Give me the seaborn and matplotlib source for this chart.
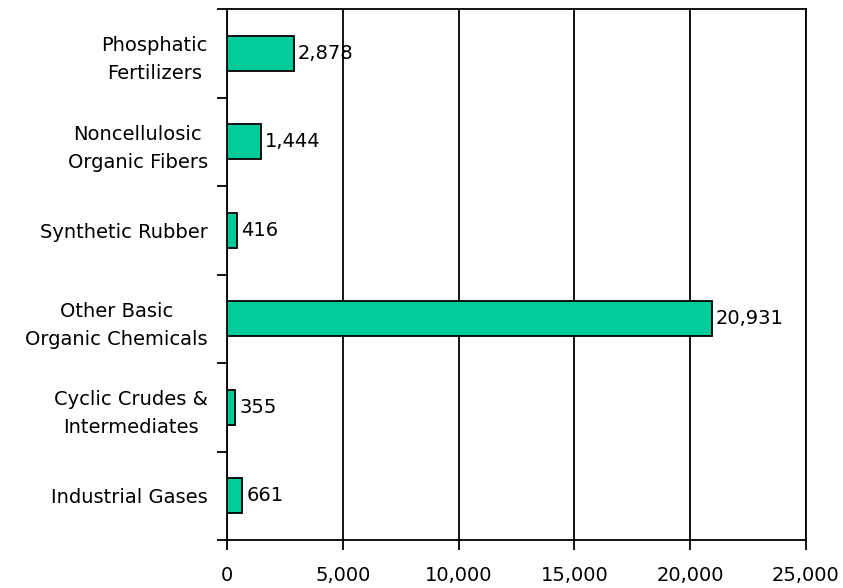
import matplotlib
matplotlib.use("Agg")
import matplotlib.pyplot as plt
import seaborn as sns
import pandas as pd

categories = [
    "Phosphatic\nFertilizers",
    "Noncellulosic\nOrganic Fibers",
    "Synthetic Rubber",
    "Other Basic\nOrganic Chemicals",
    "Cyclic Crudes &\nIntermediates",
    "Industrial Gases",
]
values = [2878, 1444, 416, 20931, 355, 661]
x_ticks = [0, 5000, 10000, 15000, 20000, 25000]
x_tick_labels = ["0", "5,000", "10,000", "15,000", "20,000", "25,000"]

sns.set_theme(style="white")
plt.rcParams["font.family"] = ["DejaVu Sans"]
plt.rcParams["text.color"] = "black"
plt.rcParams["xtick.color"] = "black"
plt.rcParams["ytick.color"] = "black"
FS = 14

df = pd.DataFrame({"category": categories, "value": values})

fig = plt.figure(figsize=(8.43, 5.88), dpi=100)
ax = fig.add_axes([0.2695, 0.0816, 0.6865, 0.9031])

sns.barplot(data=df, x="value", y="category", orient="h", order=categories,
            color="#00CC99", saturation=1, edgecolor="black", linewidth=1.3,
            width=0.4, ax=ax, zorder=3)

ax.set_xlim(0, 25000)
ax.set_ylim(len(categories) - 0.5, -0.5)
ax.set_xticks(x_ticks)
ax.set_xticklabels(x_tick_labels, fontsize=FS, color="black")
ax.set_xlabel("")
ax.set_ylabel("")

# vertical gridlines at major x ticks
ax.xaxis.grid(True, color="black", linewidth=1.3)
ax.set_axisbelow(True)

# category labels centred between boundary tick marks
ax.set_yticks(range(len(categories)))
ax.set_yticklabels(categories, fontsize=FS, multialignment="center",
                   linespacing=1.6, color="black")
ax.tick_params(axis="y", length=0, pad=14)
ax.set_yticks([i - 0.5 for i in range(len(categories) + 1)], minor=True)
ax.tick_params(axis="y", which="minor", length=7, width=1.3, color="black",
               left=True)
ax.tick_params(axis="x", length=7, width=1.3, color="black", bottom=True,
               pad=12)

for s in ax.spines.values():
    s.set_visible(True)
    s.set_color("black")
    s.set_linewidth(1.3)

for container in ax.containers:
    ax.bar_label(container, labels=[f"{v:,}" for v in values], padding=3,
                 fontsize=FS, color="black")

fig.savefig("out.png", dpi=100, facecolor="white")
